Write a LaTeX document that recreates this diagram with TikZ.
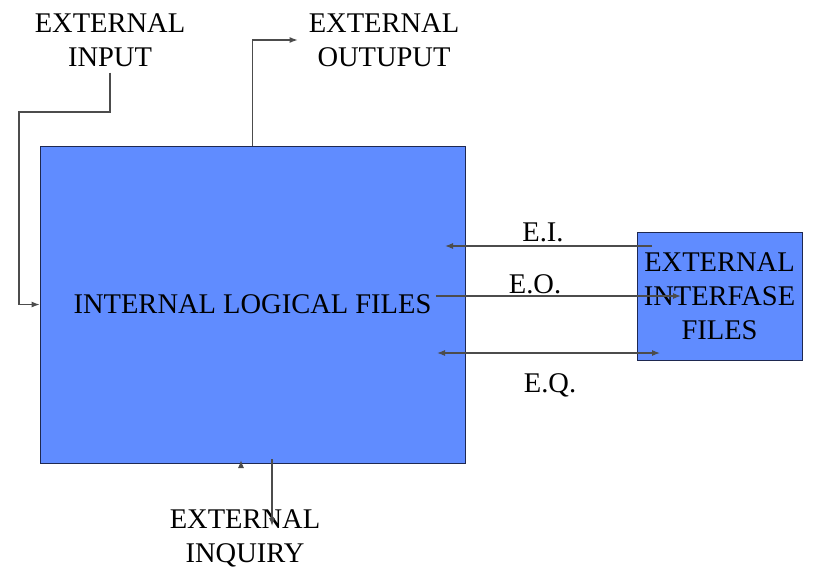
\documentclass[tikz,border=0pt]{standalone}
\usepackage{fontspec}
\setmainfont{Liberation Serif}
\usepackage{tikz}
\usetikzlibrary{arrows.meta,shapes}
\definecolor{fileblue}{RGB}{96,140,255}
\definecolor{boxline}{RGB}{30,40,80}
\tikzstyle{filebox}=[draw=boxline,line width=0.9pt,fill=fileblue,inner sep=0pt,font=\fontsize{28.5}{34}\selectfont,align=center]
\tikzstyle{label}=[inner sep=2pt,font=\fontsize{28.5}{34}\selectfont,align=center]
\tikzstyle{flow}=[draw,black!70,line width=1.1pt,-{Latex[length=8pt,width=6pt]}]
\tikzstyle{both flow}=[flow,{Latex[length=8pt,width=6pt]}-{Latex[length=8pt,width=6pt]}]

\begin{document}
\begin{tikzpicture}[x=1pt,y=-1pt]
    \useasboundingbox (0,0) rectangle (829,578);
    % First the two file boxes
    \node[filebox,minimum width=425pt,minimum height=317pt] (ilf) at (252.5,304.5) {INTERNAL LOGICAL FILES};
    \node[filebox,minimum width=165pt,minimum height=128pt] (eif) at (719.5,296) {EXTERNAL\\INTERFASE\\FILES};

    % Then the outside labels
    \foreach \pos/\name/\text in {{(110,40)/inp/EXTERNAL\\INPUT}, {(384,40)/out/EXTERNAL\\OUTUPUT}, {(245,538)/inq/EXTERNAL\\INQUIRY}}
        \node[label] (\name) at \pos {\text};
    \foreach \pos/\name/\text in {{(543,232)/ei/E.I.}, {(535,284)/eo/E.O.}, {(550,385)/eq/E.Q.}}
        \node[label] (\name) at \pos {\text};

    % Free ends of the connectors
    \coordinate (ei start) at (652,246);
    \coordinate (ei end) at (445,246);
    \coordinate (eo start) at (436,296);
    \coordinate (eo end) at (681,296);
    \coordinate (eq start) at (437,353);
    \coordinate (eq end) at (660,353);
    \coordinate (inq start) at (272,459);
    \coordinate (inq end) at (272,526);
    \coordinate (inq tip) at (241,460);

    % Connect boxes and labels
    \path[flow] ([yshift=-4pt]inp.south) |- (19,112) |- (ilf.west);
    \path[flow] (ilf.north) |- ([xshift=-9pt]out.west);
    \path[flow] (ei start) -- (ei end);
    \path[flow] (eo start) -- (eo end);
    \path[both flow] (eq start) -- (eq end);
    \path[flow] (inq start) -- (inq end);
    \path[flow] ([yshift=-7pt]inq tip) -- (inq tip);
\end{tikzpicture}
\end{document}
